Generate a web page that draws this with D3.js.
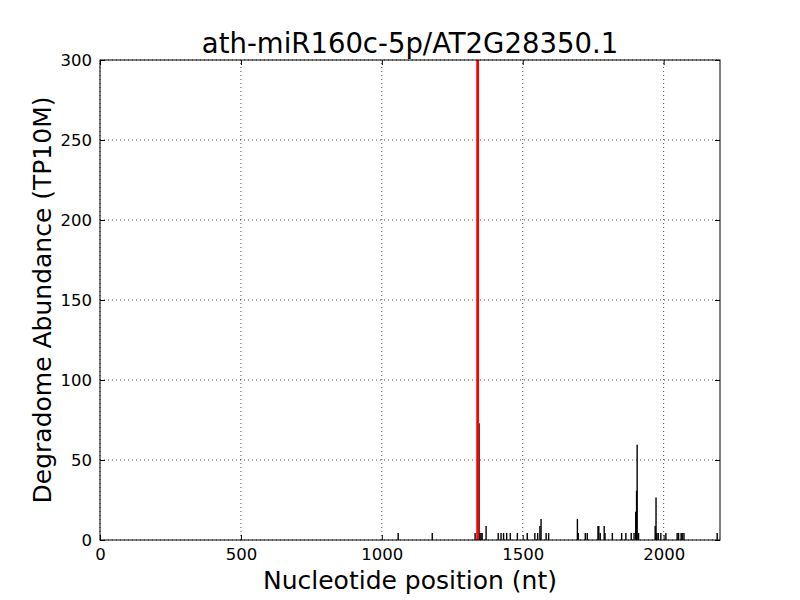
<!DOCTYPE html>
<html>
<head>
<meta charset="utf-8">
<script src="https://cdn.jsdelivr.net/npm/d3@7"></script>
<style>
  html, body { margin: 0; padding: 0; background: #fff; }
  text { font-family: "DejaVu Sans", sans-serif; fill: #000; }
</style>
</head>
<body>
<svg id="chart" width="800" height="600"></svg>
<script>
const titleText = "ath-miR160c-5p/AT2G28350.1";
const xLabel = "Nucleotide position (nt)";
const yLabel = "Degradome Abundance (TP10M)";
const xTicks = [0, 500, 1000, 1500, 2000];
const yTicks = [0, 50, 100, 150, 200, 250, 300];
const xMax = 2200;
const yMax = 300;

// degradome tags: position (nt) and abundance (TP10M)
const positions = [1058, 1179, 1331, 1345, 1348, 1352, 1356, 1370, 1413, 1423, 1432, 1443, 1456, 1481,
  1516, 1543, 1553, 1561, 1565, 1583, 1592, 1694, 1697, 1722, 1729, 1767, 1770, 1775, 1789, 1792,
  1818, 1851, 1866, 1885, 1895, 1901, 1904, 1906, 1911, 1970, 1973, 1976, 1981, 1990, 2008,
  2048, 2053, 2062, 2066, 2072, 2190];
const values = [4.4, 4.4, 4.4, 73, 4.4, 4.4, 4.4, 8.8, 4.4, 4.4, 4.4, 4.4, 4.4, 4.4,
  4.4, 4.4, 4.4, 8.8, 13.2, 4.4, 4.4, 13.2, 4.4, 4.4, 4.4, 8.8, 8.8, 4.4, 8.8, 4.4,
  4.4, 4.4, 4.4, 4.4, 4.4, 17.6, 30.8, 59.5, 4.4, 8.8, 26.5, 4.4, 4.4, 4.4, 4.4,
  4.4, 4.4, 4.4, 4.4, 4.4, 4.4];
// predicted cleavage site
const cleavagePos = [1340];
const cleavageVal = [300];

const svg = d3.select("#chart");
const margin = {left: 100, right: 80, top: 60, bottom: 60};
const W = 800, H = 600;
const x = d3.scaleLinear().domain([0, xMax]).range([margin.left, W - margin.right]);
const y = d3.scaleLinear().domain([0, yMax]).range([H - margin.bottom, margin.top]);

const defs = svg.append("defs");
defs.append("clipPath").attr("id", "clip").append("rect")
  .attr("x", margin.left).attr("y", margin.top)
  .attr("width", W - margin.left - margin.right).attr("height", H - margin.top - margin.bottom);

// grid
const grid = svg.append("g");
grid.selectAll("line.gx").data(xTicks).join("line")
  .attr("x1", d => x(d)).attr("x2", d => x(d))
  .attr("y1", y(0)).attr("y2", y(yMax))
  .attr("stroke", "#000").attr("stroke-width", 0.7).attr("stroke-dasharray", "1,3");
grid.selectAll("line.gy").data(yTicks).join("line")
  .attr("x1", x(0)).attr("x2", x(xMax))
  .attr("y1", d => y(d)).attr("y2", d => y(d))
  .attr("stroke", "#000").attr("stroke-width", 0.7).attr("stroke-dasharray", "1,3");

// bars
const plot = svg.append("g").attr("clip-path", "url(#clip)");
const data = positions.map((p, i) => ({p, v: values[i]}));
plot.selectAll("line.tag").data(data).join("line")
  .attr("x1", d => x(d.p)).attr("x2", d => x(d.p))
  .attr("y1", y(0)).attr("y2", d => y(d.v))
  .attr("stroke", "#000").attr("stroke-width", 1.4);
plot.selectAll("line.cleave").data(cleavagePos.map((p, i) => ({p, v: cleavageVal[i]}))).join("line")
  .attr("x1", d => x(d.p)).attr("x2", d => x(d.p))
  .attr("y1", y(0)).attr("y2", d => y(d.v))
  .attr("stroke", "#ff0000").attr("stroke-width", 2.8);

// axes (ticks inward, on all sides)
const tickLen = 5;
svg.append("g").attr("transform", `translate(0,${y(0)})`)
  .call(d3.axisBottom(x).tickValues(xTicks).tickSize(-tickLen).tickPadding(8).tickFormat(d3.format("d")))
  .call(g => g.select(".domain").remove())
  .call(g => g.selectAll("text").attr("font-size", "16.5px").attr("font-family", "DejaVu Sans"));
svg.append("g").attr("transform", `translate(0,${y(yMax)})`)
  .call(d3.axisTop(x).tickValues(xTicks).tickSize(-tickLen).tickFormat(""))
  .call(g => g.select(".domain").remove());
svg.append("g").attr("transform", `translate(${x(0)},0)`)
  .call(d3.axisLeft(y).tickValues(yTicks).tickSize(-tickLen).tickPadding(8).tickFormat(d3.format("d")))
  .call(g => g.select(".domain").remove())
  .call(g => g.selectAll("text").attr("font-size", "16.5px").attr("font-family", "DejaVu Sans"));
svg.append("g").attr("transform", `translate(${x(xMax)},0)`)
  .call(d3.axisRight(y).tickValues(yTicks).tickSize(-tickLen).tickFormat(""))
  .call(g => g.select(".domain").remove());
svg.selectAll(".tick line").attr("stroke", "#000").attr("stroke-width", 1);

// frame
svg.append("rect")
  .attr("x", x(0)).attr("y", y(yMax))
  .attr("width", x(xMax) - x(0)).attr("height", y(0) - y(yMax))
  .attr("fill", "none").attr("stroke", "#000").attr("stroke-width", 1);

// texts
svg.append("text").attr("x", (x(0) + x(xMax)) / 2).attr("y", 53)
  .attr("text-anchor", "middle").attr("font-size", "27.5px").text(titleText);
svg.append("text").attr("x", (x(0) + x(xMax)) / 2).attr("y", 589)
  .attr("text-anchor", "middle").attr("font-size", "25px").text(xLabel);
svg.append("text").attr("transform", `translate(51,${(y(0) + y(yMax)) / 2}) rotate(-90)`)
  .attr("text-anchor", "middle").attr("font-size", "25px").text(yLabel);
</script>
</body>
</html>
